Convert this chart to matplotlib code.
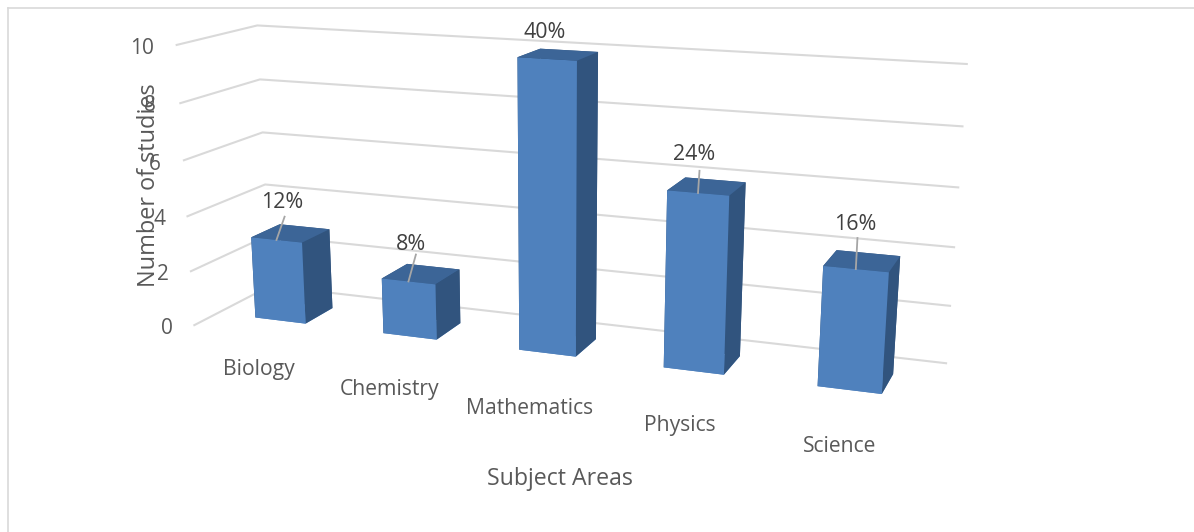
import numpy as np
import matplotlib
matplotlib.use("Agg")
import matplotlib.pyplot as plt
from matplotlib.lines import Line2D

categories = ["Biology", "Chemistry", "Mathematics", "Physics", "Science"]
studies = [3, 2, 10, 6, 4]
percent_labels = ["12%", "8%", "40%", "24%", "16%"]
z_ticks = [0, 2, 4, 6, 8, 10]

# layout (pixels in the 1194x532 frame)
cat_px = [(259, 370), (390, 390), (530, 409), (680, 425), (840, 446)]
pct_px = [(282, 203), (411, 245), (545, 33), (694, 154), (855, 224)]
tick_px = [(167, 328), (163, 274), (160, 220), (155, 165), (150, 105), (142, 49)]
leader_rise = [0.7, 0.8, 0.0, 0.7, 1.0]
leader_back = [0.12, 0.12, 0.0, 0.02, 0.0]

plt.rcParams['font.family'] = ['Open Sans', 'DejaVu Sans']
W_PX, H_PX = 1194, 532
fig = plt.figure(figsize=(W_PX / 100, H_PX / 100), dpi=100, facecolor='white')

# camera
ELEV, AZIM = 16.4, -69.1
PPX, PPY = 554, 288
FOCAL_PX = 1688
S = 600
fm = FOCAL_PX * 0.185 / S
D = 10 * fm
L = D
w_world, b_world, h_world = 0.395 * L, 0.082 * L, 0.1538 * L
sx, sy, sz = w_world / 5, b_world / 1.0, h_world / 10
xc = 0.1572 * L / sx
yc = 1.0 + 0.0597 * L / sy
zc = -0.0012 * L / sz
dx, dy, dz = xc, yc, 10 - zc
left = PPX - 0.5135 * S
bottom = (H_PX - PPY) - 0.5135 * S
ax = fig.add_axes([left / W_PX, bottom / H_PX, S / W_PX, S / H_PX], projection='3d',
                  computed_zorder=False)
ax.set_xlim(xc - dx, xc + dx)
ax.set_ylim(yc - dy, yc + dy)
ax.set_zlim(zc - dz, zc + dz)
asp = np.array([2 * dx * sx, 2 * dy * sy, 2 * dz * sz])
ax.set_box_aspect(asp, zoom=np.linalg.norm(asp) / 1.9057)
ax.view_init(elev=ELEV, azim=AZIM, roll=0)
ax.set_proj_type('persp', focal_length=fm)
ax.set_axis_off()
ax.patch.set_alpha(0)

GRID = '#D9D9D9'
for v in z_ticks:
    ax.plot([0, 0, 5], [0, 1, 1], [v, v, v], color=GRID, lw=1.5, zorder=1, clip_on=False)

FRONT, SIDE, TOP = '#4F81BD', '#31547E', '#3C6597'
bw, bd, y_front = 0.40, 0.38, 0.295
CAT_START, CAT_STEP = 0.505, 1.003
for i, v in enumerate(studies):
    xm = CAT_START + CAT_STEP * i
    ax.bar3d(xm - bw / 2, y_front, 0, bw, bd, v, shade=False,
             color=[FRONT, TOP, FRONT, SIDE, SIDE, SIDE], zorder=3, clip_on=False,
             edgecolor='none')
    if leader_rise[i] > 0:
        ax.plot([xm, xm], [y_front, y_front + leader_back[i]], [v, v + leader_rise[i]],
                color='#A6A6A6', lw=1.3, zorder=4, clip_on=False)

def px(x, y):
    return x / W_PX, 1 - y / H_PX

for v, (x, y) in zip(z_ticks, tick_px):
    fig.text(*px(x, y), str(v), ha='center', va='center', fontsize=15, color='#595959')
for name, (x, y) in zip(categories, cat_px):
    fig.text(*px(x, y), name, ha='center', va='center', fontsize=15.2, color='#595959')
for lab, (x, y) in zip(percent_labels, pct_px):
    fig.text(*px(x, y), lab, ha='center', va='center', fontsize=15.4, color='#404040')
fig.text(*px(560, 479), 'Subject Areas', ha='center', va='center', fontsize=16.7, color='#595959')
fig.text(*px(149, 185), 'Number of studies', rotation=90, ha='center', va='center', fontsize=16.9, color='#595959')

fig.add_artist(Line2D([7.5 / W_PX, 7.5 / W_PX], [0, 1 - 7.5 / H_PX], color='#D9D9D9', lw=1.2, transform=fig.transFigure))
fig.add_artist(Line2D([7.5 / W_PX, 1], [1 - 7.5 / H_PX, 1 - 7.5 / H_PX], color='#D9D9D9', lw=1.2, transform=fig.transFigure))

fig.savefig('out.png', dpi=100, facecolor='white')
